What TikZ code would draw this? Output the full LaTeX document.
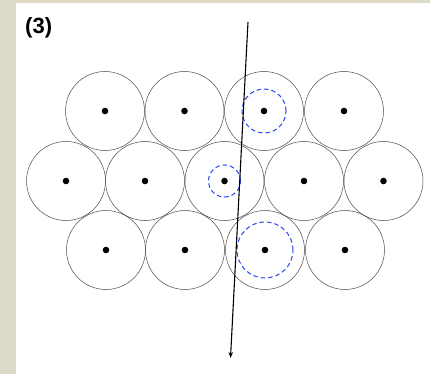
\documentclass[tikz,border=0pt]{standalone}
\usepackage{fontspec}
\setmainfont{Liberation Sans}
\definecolor{paperBeige}{RGB}{221,219,199}
\definecolor{shellBlue}{RGB}{40,70,245}
\usetikzlibrary{arrows.meta,positioning}

\begin{document}
\begin{tikzpicture}[x=1pt,y=-1pt,
    atom/.style={circle,draw=black!70,line width=0.5pt,minimum size=79pt,inner sep=0pt},
    shell/.style={circle,draw=shellBlue,line width=1pt,dash pattern=on 4.5pt off 3pt,inner sep=0pt}]
        % background
        \fill[paperBeige] (0,0) rectangle (430,374);
        \fill[white] (16,3) rectangle (430,374);
        \useasboundingbox (0,0) rectangle (430,374);
        \node[font=\bfseries\fontsize{22}{22}\selectfont,anchor=north west,inner sep=0pt] (tag) at (25,17) {(3)};
        % top row
        \foreach \i/\x in {1/105,2/184.5,3/264,4/344}
          \node[atom] (t\i) at (\x,111) {};
        % middle row
        \foreach \i/\x in {1/66,2/145,3/224.5,4/304,5/383.5}
          \node[atom] (m\i) at (\x,181) {};
        % bottom row
        \foreach \i/\x in {1/106,2/185,3/265,4/345}
          \node[atom] (b\i) at (\x,250) {};
        % nuclei
        \foreach \n in {t1,t2,t3,t4,m1,m2,m3,m4,m5,b1,b2,b3,b4}
          \fill (\n.center) circle (3.3);
        % dashed shells
        \node[shell,minimum size=44pt] (st) at (t3.center) {};
        \node[shell,minimum size=32pt] (sm) at (m3.center) {};
        \node[shell,minimum size=56pt] (sb) at (b3.center) {};
        % probe direction
        \coordinate (p0) at (248,22);
        \coordinate (p1) at (230.5,358);
        \draw[-{Stealth[length=6pt,width=4.5pt]},line width=1.1pt] (p0)--(p1);
\end{tikzpicture}
\end{document}
